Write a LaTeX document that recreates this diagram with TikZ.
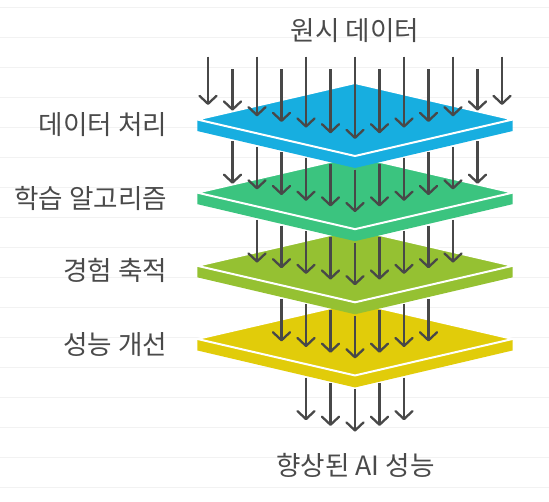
\documentclass[tikz,border=0pt]{standalone}
\usepackage{fontspec}
\setmainfont{Noto Sans CJK KR}
\usetikzlibrary{arrows.meta}
\definecolor{txt}{HTML}{4A4A4A}
\definecolor{arrowc}{HTML}{484848}
\definecolor{gridc}{HTML}{F2F2F2}
\definecolor{lblue}{HTML}{17AEE0}
\definecolor{lgreen}{HTML}{3BC47F}
\definecolor{lygreen}{HTML}{95C132}
\definecolor{lyellow}{HTML}{E1CC0A}
\tikzset{
  lbl/.style={inner sep=0pt, text=txt, font=\fontsize{26.6}{30}\selectfont},
  arr/.style={draw=arrowc, line width=2.3pt, -{Straight Barb[length=8pt,width=17pt,round]}},
  gline/.style={draw=gridc, line width=0.9pt},
  topface/.style={draw=white, line width=2pt, line join=round},
}
\begin{document}
\begin{tikzpicture}[x=1pt,y=-1pt]
\useasboundingbox (0,0) rectangle (549,501);
% background lines
\foreach \m in {0,...,16}{
  \draw[gline] (0,{7.3+30*\m}) -- (549,{7.3+30*\m});
}
% layers, bottom first
\foreach \k/\col in {3/lyellow,2/lygreen,1/lgreen,0/lblue}{
  \pgfmathsetmacro\yc{156+73.15*\k}
  \fill[\col] (197.3,\yc-36.5) -- (355,\yc) -- (512.7,\yc-36.5) -- (512.7,\yc-25) -- (355,\yc+12) -- (197.3,\yc-25) -- cycle;
  \filldraw[topface, fill=\col] (355,\yc-73) -- (512.7,\yc-36.5) -- (355,\yc) -- (197.3,\yc-36.5) -- cycle;
}
% top arrows
\foreach \j in {-6,...,6}{
  \pgfmathsetmacro\ys{ifthenelse(mod(abs(\j),2)==0,56.7,69.3)}
  \pgfmathsetmacro\ye{139-5.67*abs(\j)}
  \coordinate (s0\j) at ({355+24.5*\j},\ys);
  \coordinate (e0\j) at ({355+24.5*\j},\ye);
  \draw[arr] (s0\j) -- (e0\j);
}
% arrows between layers and below
\foreach \k/\n in {0/5,1/4,2/3,3/2}{
  \pgfmathsetmacro\yc{156+73.15*\k}
  \foreach \j in {-\n,...,\n}{
    \pgfmathsetmacro\ys{\yc+13.5-5.67*abs(\j)}
    \pgfmathsetmacro\ye{\yc+73.15-17-5.67*abs(\j)}
    \coordinate (s\k\j) at ({355+24.5*\j},\ys);
    \coordinate (e\k\j) at ({355+24.5*\j},\ye);
    \draw[arr] (s\k\j) -- (e\k\j);
  }
}
% labels
\node[lbl] (title) at (355,30.5) {원시 데이터};
\node[lbl, anchor=east] (l1) at (167.5,124.5) {데이터 처리};
\node[lbl, anchor=east] (l2) at (167.5,198) {학습 알고리즘};
\node[lbl, anchor=east] (l3) at (167.5,270.5) {경험 축적};
\node[lbl, anchor=east] (l4) at (167.5,345) {성능 개선};
\node[lbl] (result) at (355.5,465) {향상된 AI 성능};
\end{tikzpicture}
\end{document}
